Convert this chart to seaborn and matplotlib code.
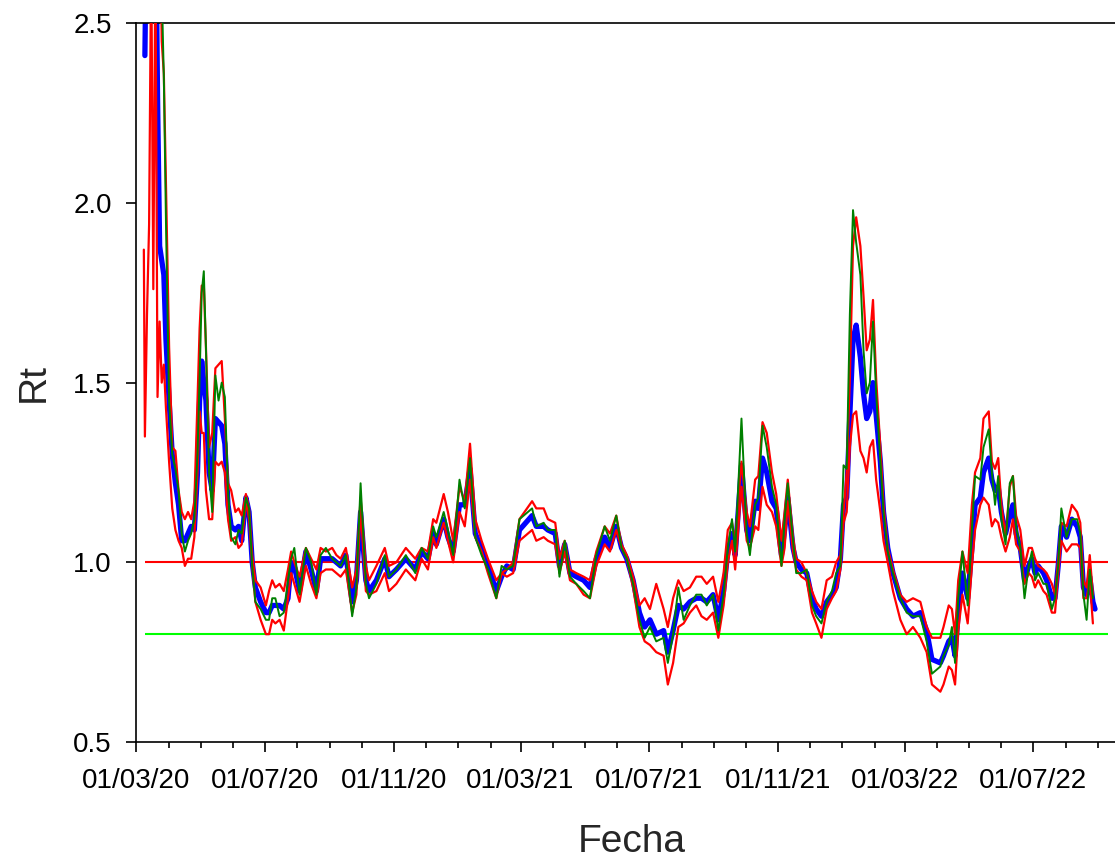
import numpy as np
import pandas as pd
import matplotlib
matplotlib.use("Agg")
import matplotlib.pyplot as plt
import matplotlib.dates as mdates
import seaborn as sns

nan = np.nan
start = pd.Timestamp("2020-03-01")

# days since 01/03/20
days = [7, 8, 10, 12, 14, 16, 18, 20, 22, 24, 26, 28, 31, 34, 37, 40, 43, 46, 49, 52,
        55, 58, 60, 62, 64, 66, 69, 72, 75, 78, 81, 84, 87, 90, 94, 97, 100, 104, 107, 110,
        113, 118, 123, 126, 129, 132, 136, 140, 144, 147, 150, 155, 161, 166, 171, 175, 180, 186, 190, 194,
        199, 205, 209, 213, 218, 221, 228, 236, 240, 247, 256,
        265, 271, 277, 282, 285, 292, 296, 301, 307, 312, 317, 322, 328, 334, 342, 347, 352, 358, 364, 376,
        380, 387, 391, 398, 402, 407, 412, 418, 425, 431, 437, 445, 450, 456, 461, 466, 472, 478, 483, 488,
        494, 501, 505, 510, 515, 520, 526, 532,
        537, 542, 548, 553, 558, 562, 566, 569, 575, 580, 583, 588, 591, 595, 599, 604, 608, 613, 616, 619,
        624, 627, 632, 637, 642, 646, 651, 656, 661, 665, 669, 672, 675, 678, 681, 684, 688, 691, 694, 697,
        700, 703, 707, 710, 714, 719, 726, 732, 738, 745, 751, 756,
        764, 767, 772, 775, 778, 781, 785, 790, 794, 797, 802, 805, 810, 813, 816, 819, 822, 826, 830, 833,
        836, 840, 844, 848, 851, 854, 857, 862, 865, 870, 873, 876, 879, 884, 889, 894, 897, 900, 903, 906,
        909, 911]

rt_central = [nan, 2.41, 2.9, 2.9, 2.9, 2.9, 2.9, 2.3, 1.88, 1.84, 1.80, 1.62, 1.45, 1.30, 1.22, 1.16, 1.06, 1.06, 1.08, 1.10,
              1.09, 1.25, 1.45, 1.56, 1.50, 1.45, 1.25, 1.20, 1.40, 1.39, 1.38, 1.33, 1.16, 1.10, 1.09, 1.10, 1.06, 1.18, 1.14, 1.00,
              0.93, 0.89, 0.86, 0.86, 0.88, 0.88, 0.88, 0.87, 0.90, 1.00, 0.99, 0.92, 1.03, 0.98, 0.92, 1.01, 1.01, 1.01, 1.00, 0.99,
              1.02, 0.89, 0.95, 1.14, 0.95, 0.92, 0.95, 1.01, 0.96, 0.98, 1.01,
              0.98, 1.03, 1.01, 1.08, 1.05, 1.12, 1.07, 1.03, 1.16, 1.16, 1.26, 1.08, 1.04, 0.99, 0.92, 0.96, 0.99, 0.98, 1.09, 1.13,
              1.10, 1.10, 1.09, 1.08, 0.99, 1.05, 0.97, 0.96, 0.95, 0.93, 1.01, 1.07, 1.04, 1.10, 1.04, 1.01, 0.95, 0.86, 0.82, 0.84,
              0.80, 0.81, 0.75, 0.81, 0.88, 0.87, 0.89, 0.90,
              0.90, 0.89, 0.91, 0.84, 0.92, 1.03, 1.08, 1.02, 1.27, 1.09, 1.06, 1.17, 1.15, 1.29, 1.25, 1.17, 1.15, 1.02, 1.09, 1.18,
              1.04, 1.00, 0.98, 0.97, 0.90, 0.87, 0.85, 0.89, 0.91, 0.93, 1.01, 1.16, 1.18, 1.41, 1.62, 1.66, 1.57, 1.47, 1.40, 1.42,
              1.50, 1.41, 1.28, 1.14, 1.04, 0.97, 0.90, 0.87, 0.85, 0.86, 0.81, 0.73,
              0.72, 0.74, 0.78, 0.79, 0.74, 0.86, 0.97, 0.90, 1.04, 1.16, 1.18, 1.25, 1.29, 1.23, 1.20, 1.21, 1.14, 1.08, 1.13, 1.16,
              1.08, 1.04, 0.95, 0.99, 1.01, 0.97, 0.99, 0.97, 0.95, 0.90, 0.90, 0.99, 1.10, 1.07, 1.12, 1.10, 1.07, 0.93, 0.91, 0.96,
              0.89, 0.87]

rt_green = [nan, nan, nan, nan, nan, nan, nan, 2.9, 2.9, 2.6, 2.35, 1.95, 1.45, 1.30, 1.26, 1.20, 1.08, 1.03, 1.06, 1.08,
            1.12, 1.30, 1.51, 1.75, 1.81, 1.60, 1.25, 1.14, 1.52, 1.45, 1.50, 1.46, 1.20, 1.07, 1.05, 1.09, 1.08, 1.18, 1.15, 0.99,
            0.89, 0.87, 0.84, 0.84, 0.90, 0.90, 0.85, 0.86, 0.95, 1.01, 1.04, 0.91, 1.04, 1.00, 0.91, 1.02, 1.04, 1.01, 1.00, 0.99,
            1.02, 0.85, 0.93, 1.22, 0.94, 0.90, 0.94, 1.02, 0.96, 0.98, 1.02,
            0.97, 1.04, 1.01, 1.10, 1.07, 1.14, 1.09, 1.02, 1.23, 1.15, 1.29, 1.07, 1.02, 0.98, 0.90, 0.99, 0.98, 0.99, 1.12, 1.15,
            1.10, 1.11, 1.09, 1.09, 0.96, 1.06, 0.96, 0.94, 0.92, 0.90, 1.02, 1.10, 1.06, 1.13, 1.04, 1.01, 0.94, 0.84, 0.79, 0.82,
            0.78, 0.79, 0.72, 0.80, 0.93, 0.84, 0.88, 0.91,
            0.91, 0.88, 0.91, 0.81, 0.91, 1.04, 1.12, 1.03, 1.40, 1.08, 1.02, 1.16, 1.18, 1.38, 1.32, 1.21, 1.16, 0.99, 1.12, 1.22,
            1.06, 0.97, 0.97, 0.98, 0.88, 0.85, 0.83, 0.89, 0.92, 0.97, 0.99, 1.27, 1.26, 1.69, 1.98, 1.89, 1.80, 1.59, 1.47, 1.50,
            1.67, 1.47, 1.28, 1.14, 1.03, 0.97, 0.90, 0.86, 0.85, 0.85, 0.78, 0.69,
            0.71, 0.74, 0.77, 0.82, 0.72, 0.90, 1.03, 0.88, 1.09, 1.24, 1.23, 1.32, 1.37, 1.25, 1.16, 1.24, 1.12, 1.05, 1.22, 1.24,
            1.10, 1.04, 0.90, 0.99, 1.03, 0.95, 0.97, 0.94, 0.94, 0.87, 0.90, 0.99, 1.15, 1.07, 1.12, 1.12, 1.08, 0.91, 0.84, 0.98,
            0.90, nan]

rt_upper = [nan, nan, nan, nan, nan, nan, nan, 2.9, 2.9, 2.45, 2.36, 2.05, 1.60, 1.32, 1.31, 1.20, 1.14, 1.12, 1.14, 1.12,
            1.17, 1.45, 1.65, 1.77, 1.77, 1.60, 1.32, 1.36, 1.54, 1.55, 1.56, 1.40, 1.22, 1.20, 1.14, 1.15, 1.13, 1.19, 1.15, 1.02,
            0.95, 0.93, 0.88, 0.92, 0.95, 0.93, 0.94, 0.92, 0.98, 1.03, 1.00, 0.96, 1.04, 1.01, 0.98, 1.04, 1.03, 1.04, 1.02, 1.01,
            1.04, 0.93, 0.98, 1.18, 0.99, 0.95, 0.99, 1.04, 0.99, 1.00, 1.04,
            1.01, 1.04, 1.03, 1.12, 1.11, 1.19, 1.14, 1.06, 1.21, 1.17, 1.33, 1.12, 1.06, 1.01, 0.95, 0.97, 0.98, 1.00, 1.12, 1.17,
            1.15, 1.15, 1.12, 1.11, 1.01, 1.06, 0.98, 0.97, 0.96, 0.95, 1.03, 1.10, 1.08, 1.13, 1.05, 1.02, 0.96, 0.88, 0.90, 0.87,
            0.94, 0.87, 0.82, 0.90, 0.95, 0.92, 0.93, 0.96,
            0.96, 0.94, 0.96, 0.89, 0.97, 1.09, 1.11, 1.06, 1.28, 1.14, 1.10, 1.23, 1.24, 1.39, 1.36, 1.25, 1.19, 1.06, 1.14, 1.23,
            1.07, 1.01, 1.00, 0.97, 0.92, 0.89, 0.87, 0.95, 0.96, 1.00, 1.02, 1.14, 1.25, 1.51, 1.88, 1.96, 1.88, 1.74, 1.59, 1.62,
            1.73, 1.51, 1.32, 1.16, 1.04, 0.98, 0.91, 0.89, 0.90, 0.89, 0.82, 0.79,
            0.79, 0.82, 0.88, 0.87, 0.80, 0.95, 1.03, 0.97, 1.16, 1.25, 1.29, 1.40, 1.42, 1.28, 1.26, 1.29, 1.16, 1.07, 1.21, 1.24,
            1.13, 1.09, 0.99, 1.04, 1.04, 1.01, 0.99, 0.98, 0.97, 0.94, 0.91, 1.01, 1.11, 1.10, 1.16, 1.14, 1.11, 0.95, 0.93, 1.02,
            0.91, nan]

rt_lower = [1.87, 1.35, 1.69, 1.94, 2.7, 1.76, 2.7, 1.46, 1.67, 1.50, 1.55, 1.43, 1.28, 1.15, 1.09, 1.06, 1.04, 0.99, 1.01, 1.01,
            1.07, 1.25, 1.42, 1.36, 1.36, 1.20, 1.12, 1.12, 1.28, 1.27, 1.28, 1.25, 1.12, 1.06, 1.07, 1.04, 1.05, 1.17, 1.12, 0.99,
            0.89, 0.84, 0.80, 0.80, 0.84, 0.83, 0.84, 0.81, 0.90, 0.97, 0.94, 0.89, 0.99, 0.94, 0.90, 0.97, 0.98, 0.98, 0.97, 0.96,
            0.98, 0.86, 0.91, 1.15, 0.92, 0.91, 0.92, 0.97, 0.92, 0.94, 0.98,
            0.95, 1.01, 0.98, 1.07, 1.04, 1.11, 1.06, 1.00, 1.14, 1.10, 1.23, 1.07, 1.03, 0.97, 0.90, 0.97, 0.96, 0.97, 1.06, 1.09,
            1.06, 1.07, 1.06, 1.05, 0.97, 1.03, 0.95, 0.94, 0.91, 0.90, 0.99, 1.05, 1.03, 1.09, 1.04, 1.01, 0.93, 0.82, 0.78, 0.77,
            0.75, 0.74, 0.66, 0.72, 0.82, 0.83, 0.86, 0.88,
            0.85, 0.84, 0.86, 0.79, 0.88, 1.00, 1.06, 0.98, 1.21, 1.06, 1.04, 1.10, 1.09, 1.21, 1.16, 1.14, 1.10, 0.99, 1.04, 1.17,
            1.03, 0.98, 0.96, 0.95, 0.86, 0.83, 0.79, 0.87, 0.90, 0.92, 0.98, 1.11, 1.14, 1.32, 1.41, 1.42, 1.31, 1.29, 1.25, 1.32,
            1.34, 1.23, 1.14, 1.06, 1.00, 0.92, 0.84, 0.80, 0.82, 0.79, 0.75, 0.66,
            0.64, 0.66, 0.71, 0.70, 0.66, 0.81, 0.91, 0.83, 0.99, 1.09, 1.16, 1.18, 1.16, 1.10, 1.12, 1.11, 1.07, 1.03, 1.07, 1.12,
            1.05, 1.03, 0.94, 0.97, 0.96, 0.93, 0.95, 0.92, 0.91, 0.86, 0.86, 0.97, 1.06, 1.03, 1.05, 1.05, 1.04, 0.90, 0.90, 0.95,
            0.83, nan]

# reference levels and how far they run
ref_levels = [1.0, 0.8]
ref_colors = ["#ff0000", "#00ff00"]
ref_span = [8, 923]
xlim_days = [0, 930]

df = pd.DataFrame({
    "Fecha": start + pd.to_timedelta(days, unit="D"),
    "central": rt_central,
    "green": rt_green,
    "upper": rt_upper,
    "lower": rt_lower,
})

sns.set_style("ticks")
plt.rcParams["font.family"] = ["Liberation Sans", "DejaVu Sans"]

fig = plt.figure(figsize=(11.15, 8.6), dpi=100)
ax = fig.add_axes([0.1224, 0.1372, 0.8776, 0.8358])

t0, t1 = [start + pd.Timedelta(days=d) for d in ref_span]
for lvl, col in zip(ref_levels, ref_colors):
    ax.hlines(lvl, t0, t1, color=col, lw=1.5, zorder=1)

sns.lineplot(data=df, x="Fecha", y="central", color="#0000ff", lw=3.8, ax=ax, zorder=2)
sns.lineplot(data=df, x="Fecha", y="upper", color="#ff0000", lw=1.6, ax=ax, zorder=3)
sns.lineplot(data=df, x="Fecha", y="lower", color="#ff0000", lw=1.6, ax=ax, zorder=3)
sns.lineplot(data=df, x="Fecha", y="green", color="#008000", lw=1.4, ax=ax, zorder=4)

ax.set_xlim(start + pd.Timedelta(days=xlim_days[0]), start + pd.Timedelta(days=xlim_days[1]))
ax.set_ylim(0.5, 2.5)
ax.set_yticks([0.5, 1.0, 1.5, 2.0, 2.5])
ax.yaxis.set_major_formatter(plt.FormatStrFormatter("%.1f"))

ax.xaxis.set_major_locator(mdates.MonthLocator(bymonth=[3, 7, 11], bymonthday=1))
ax.xaxis.set_minor_locator(mdates.MonthLocator(bymonthday=1))
ax.xaxis.set_major_formatter(mdates.DateFormatter("%d/%m/%y"))

for side in ["left", "bottom", "top"]:
    ax.spines[side].set_linewidth(1.2)
    ax.spines[side].set_color("black")
ax.spines["right"].set_visible(False)

ax.tick_params(axis="both", which="major", direction="out", length=7, width=1.2,
               labelsize=20, color="black", labelcolor="black")
ax.tick_params(axis="x", which="major", pad=11.5)
ax.tick_params(axis="y", which="major", pad=10.8)
ax.tick_params(axis="x", which="minor", direction="out", length=4, width=1.2, color="black")

ax.set_xlabel("Fecha", fontsize=28, va="center")
ax.set_ylabel("Rt", fontsize=28, va="center")
ax.xaxis.set_label_coords(0.506, -0.139)
ax.yaxis.set_label_coords(-0.1048, 0.5)
ax.grid(False)

fig.savefig("out.png", dpi=100)
